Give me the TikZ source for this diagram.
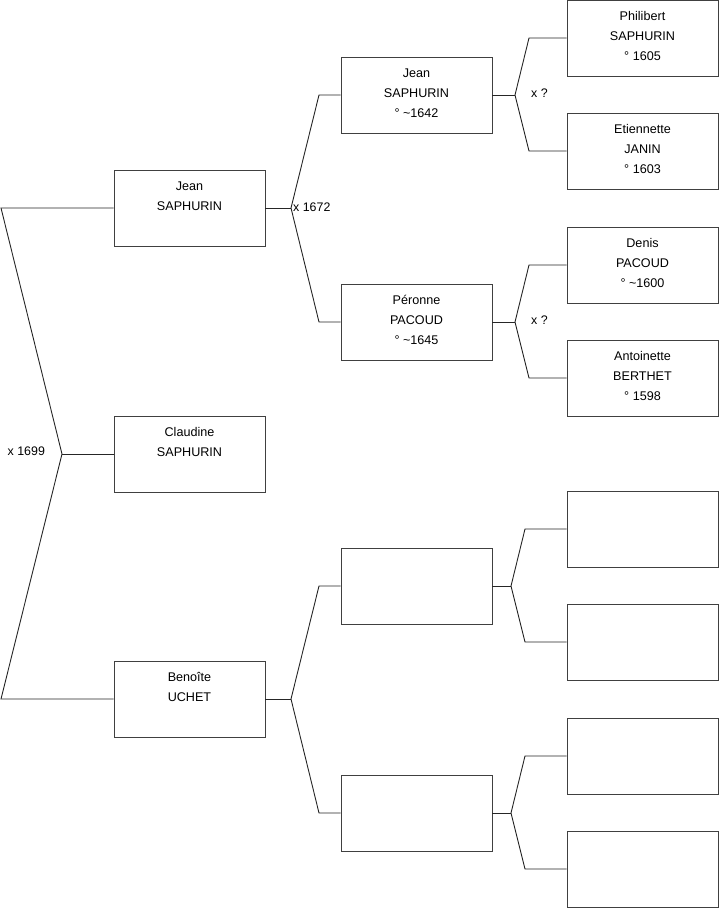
\documentclass[tikz,border=0pt]{standalone}
\usepackage{fontspec}
\setmainfont{Liberation Sans}
\newcommand\boxtext[1]{\vbox to 76pt{\hsize=151pt\parindent=0pt\centering\fontsize{12.6}{19.7}\selectfont\vskip 7pt\strut #1\par\vfil}}
\begin{document}
\begin{tikzpicture}[x=1pt,y=-1pt,
  person/.style={draw=black!75,line width=0.9pt,inner sep=0pt,minimum width=151pt,minimum height=76pt,anchor=center},
  link/.style={draw=black!85,line width=0.9pt},
  marr/.style={font=\fontsize{12.4}{14}\selectfont,inner sep=0pt}]
\useasboundingbox (0,0) rectangle (719,908);
% column 1
\node[person] (jean) at (189.5,208) {\boxtext{Jean\\SAPHURIN}};
\node[person] (claudine) at (189.5,454) {\boxtext{Claudine\\SAPHURIN}};
\node[person] (benoite) at (189.5,699) {\boxtext{Benoîte\\UCHET}};
% column 2
\node[person] (jeanp) at (416.5,95) {\boxtext{Jean\\SAPHURIN\\° \textasciitilde1642}};
\node[person] (peronne) at (416.5,322) {\boxtext{Péronne\\PACOUD\\° \textasciitilde1645}};
\node[person] (bf) at (416.5,586) {\boxtext{}};
\node[person] (bm) at (416.5,813) {\boxtext{}};
% column 3
\node[person] (philibert) at (642.5,38) {\boxtext{Philibert\\SAPHURIN\\° 1605}};
\node[person] (etiennette) at (642.5,151) {\boxtext{Etiennette\\JANIN\\° 1603}};
\node[person] (denis) at (642.5,265) {\boxtext{Denis\\PACOUD\\° \textasciitilde1600}};
\node[person] (antoinette) at (642.5,378) {\boxtext{Antoinette\\BERTHET\\° 1598}};
\node[person] (g1) at (642.5,529) {\boxtext{}};
\node[person] (g2) at (642.5,642) {\boxtext{}};
\node[person] (g3) at (642.5,756) {\boxtext{}};
\node[person] (g4) at (642.5,869) {\boxtext{}};
% fork coordinates
\coordinate (r) at (62,454);
\coordinate (ru) at (1,208);
\coordinate (rd) at (1,699);
\coordinate (a) at (291,208);
\coordinate (au) at (319,95);
\coordinate (ad) at (319,322);
\coordinate (b) at (291,699);
\coordinate (bu) at (319,586);
\coordinate (bd) at (319,813);
\coordinate (c) at (515,95);
\coordinate (cu) at (529,38);
\coordinate (cd) at (529,151);
\coordinate (d) at (515,322);
\coordinate (du) at (529,265);
\coordinate (dd) at (529,378);
\coordinate (e) at (511,586);
\coordinate (eu) at (525,529);
\coordinate (ed) at (525,642);
\coordinate (f) at (511,813);
\coordinate (fu) at (525,756);
\coordinate (fd) at (525,869);
% connectors
\draw[link] (claudine.west) -- (r);
\draw[link] (r) -- (ru) -- (jean.west);
\draw[link] (r) -- (rd) -- (benoite.west);
\draw[link] (jean.east) -- (a);
\draw[link] (a) -- (au) -- (jeanp.west);
\draw[link] (a) -- (ad) -- (peronne.west);
\draw[link] (benoite.east) -- (b);
\draw[link] (b) -- (bu) -- (bf.west);
\draw[link] (b) -- (bd) -- (bm.west);
\draw[link] (jeanp.east) -- (c);
\draw[link] (c) -- (cu) -- (philibert.west);
\draw[link] (c) -- (cd) -- (etiennette.west);
\draw[link] (peronne.east) -- (d);
\draw[link] (d) -- (du) -- (denis.west);
\draw[link] (d) -- (dd) -- (antoinette.west);
\draw[link] (bf.east) -- (e);
\draw[link] (e) -- (eu) -- (g1.west);
\draw[link] (e) -- (ed) -- (g2.west);
\draw[link] (bm.east) -- (f);
\draw[link] (f) -- (fu) -- (g3.west);
\draw[link] (f) -- (fd) -- (g4.west);
% marriage labels
\node[marr,anchor=west] (m1) at (7.5,451) {x 1699};
\node[marr,anchor=west] (m2) at (293,207) {x 1672};
\node[marr,anchor=west] (m3) at (531,93) {x ?};
\node[marr,anchor=west] (m4) at (531,320) {x ?};
\end{tikzpicture}
\end{document}
